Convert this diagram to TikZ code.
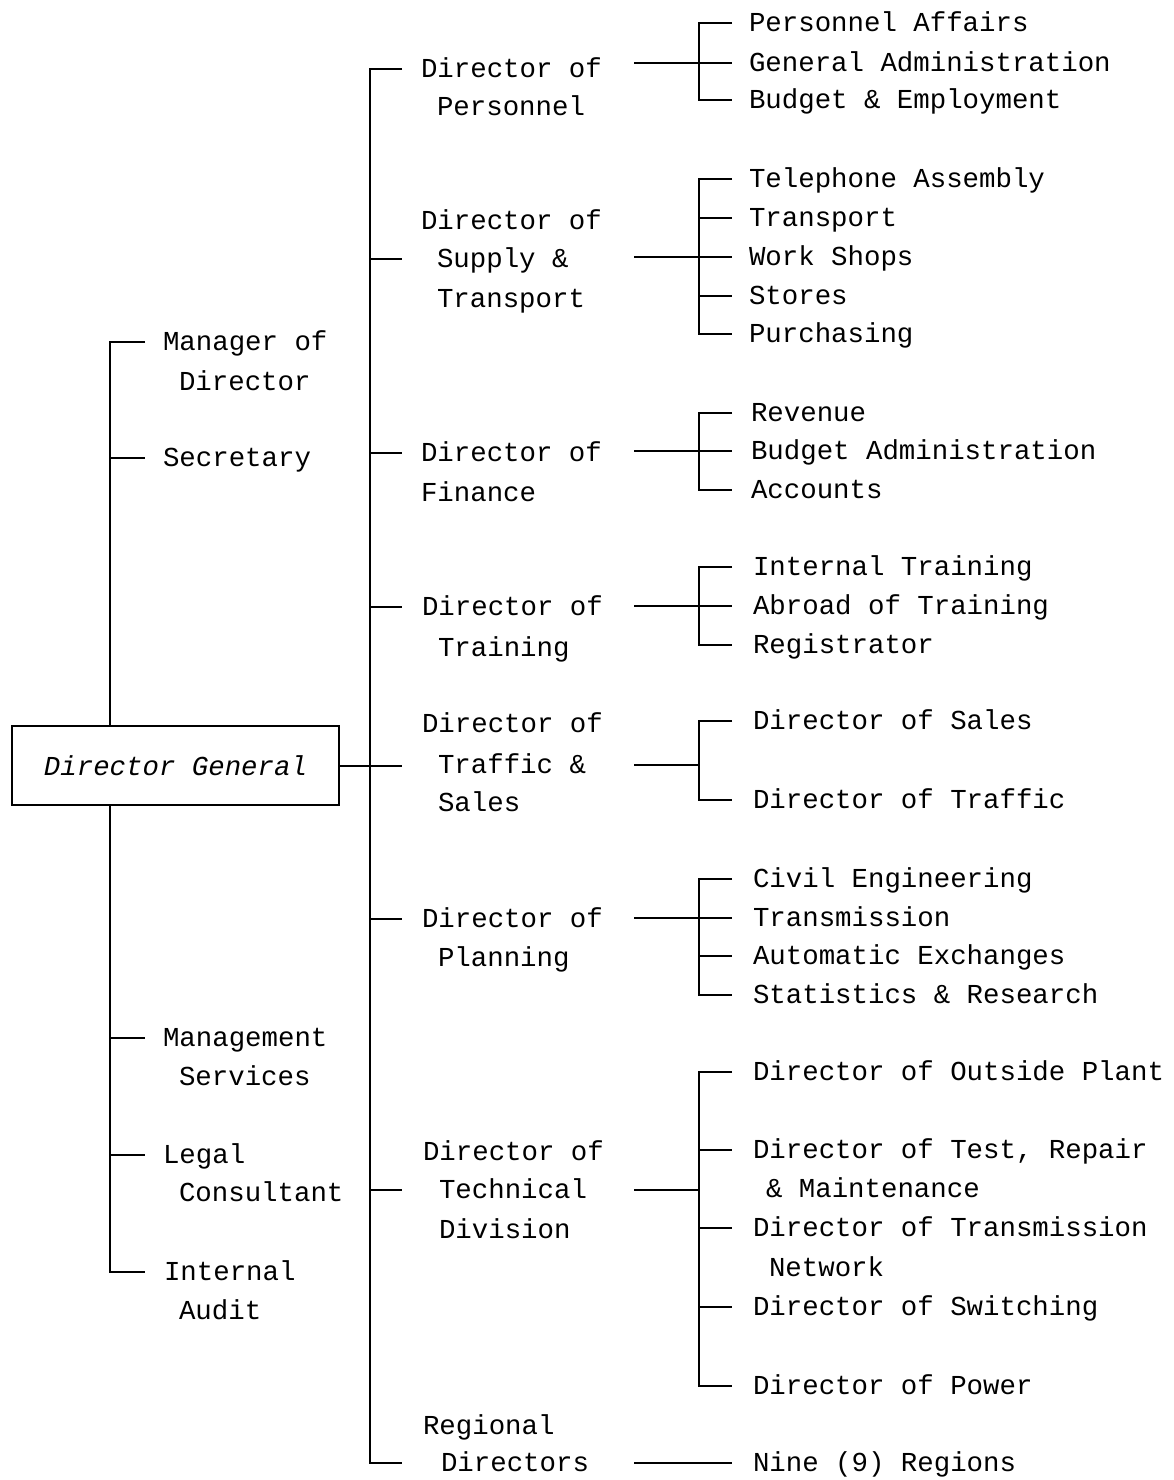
\documentclass[tikz,border=0pt]{standalone}
\usepackage{fontspec}
\newfontfamily\tw{Liberation Mono}
\begin{document}
\begin{tikzpicture}[x=1pt,y=-1pt,line width=2pt,line join=miter,
  lbl/.style={inner sep=0pt,anchor=west,text height=17pt,text depth=0pt,font=\tw\fontsize{27.4}{33}\selectfont},
  boxed/.style={draw,line width=2pt,inner sep=0pt,minimum width=327pt,minimum height=79pt,font=\tw\itshape\fontsize{27.4}{33}\selectfont}]
\useasboundingbox[fill=white] (0,0) rectangle (1173,1480);
% guide coordinates (x positions)
\coordinate (L) at (110,0);
\coordinate (Le) at (145,0);
\coordinate (M) at (370,0);
\coordinate (E) at (402,0);
\coordinate (C) at (634,0);
\coordinate (B) at (699,0);
\coordinate (D) at (732,0);
% Director General
\node[boxed] (dg) at (175.5,765.5) {Director General};
% left column
\node[lbl] (mg1) at (162,342) {Manager of};
\node[lbl] (mg2) at (178,382) {Director};
\node[lbl] (sec) at (162,458) {Secretary};
\node[lbl] (ms1) at (162,1038) {Management};
\node[lbl] (ms2) at (178,1077) {Services};
\node[lbl] (lc1) at (162,1155) {Legal};
\node[lbl] (lc2) at (178,1193) {Consultant};
\node[lbl] (ia1) at (163,1272) {Internal};
\node[lbl] (ia2) at (178,1311) {Audit};
% directors
\node[lbl] (dp1) at (420,69) {Director of};
\node[lbl] (dp2) at (436,107) {Personnel};
\node[lbl] (ds1) at (420,221) {Director of};
\node[lbl] (ds2) at (436,259) {Supply \&};
\node[lbl] (ds3) at (436,299) {Transport};
\node[lbl] (df1) at (420,453) {Director of};
\node[lbl] (df2) at (420,493) {Finance};
\node[lbl] (dt1) at (421,607) {Director of};
\node[lbl] (dt2) at (437,648) {Training};
\node[lbl] (dx1) at (421,724) {Director of};
\node[lbl] (dx2) at (437,765) {Traffic \&};
\node[lbl] (dx3) at (437,803) {Sales};
\node[lbl] (dl1) at (421,919) {Director of};
\node[lbl] (dl2) at (437,958) {Planning};
\node[lbl] (dk1) at (422,1152) {Director of};
\node[lbl] (dk2) at (438,1190) {Technical};
\node[lbl] (dk3) at (438,1230) {Division};
\node[lbl] (dr1) at (422,1426) {Regional};
\node[lbl] (dr2) at (440,1463) {Directors};
% sub units
\node[lbl] (p1) at (748,23) {Personnel Affairs};
\node[lbl] (p2) at (748,63) {General Administration};
\node[lbl] (p3) at (748,100) {Budget \& Employment};
\node[lbl] (s1) at (748,179) {Telephone Assembly};
\node[lbl] (s2) at (748,218) {Transport};
\node[lbl] (s3) at (748,257) {Work Shops};
\node[lbl] (s4) at (748,296) {Stores};
\node[lbl] (s5) at (748,334) {Purchasing};
\node[lbl] (f1) at (750,413) {Revenue};
\node[lbl] (f2) at (750,451) {Budget Administration};
\node[lbl] (f3) at (750,490) {Accounts};
\node[lbl] (t1) at (752,567) {Internal Training};
\node[lbl] (t2) at (752,606) {Abroad of Training};
\node[lbl] (t3) at (752,645) {Registrator};
\node[lbl] (x1) at (752,721) {Director of Sales};
\node[lbl] (x2) at (752,800) {Director of Traffic};
\node[lbl] (l1) at (752,879) {Civil Engineering};
\node[lbl] (l2) at (752,918) {Transmission};
\node[lbl] (l3) at (752,956) {Automatic Exchanges};
\node[lbl] (l4) at (752,995) {Statistics \& Research};
\node[lbl] (k1) at (752,1072) {Director of Outside Plant};
\node[lbl] (k2) at (752,1150) {Director of Test, Repair};
\node[lbl] (k2b) at (765,1189) {\& Maintenance};
\node[lbl] (k3) at (752,1228) {Director of Transmission};
\node[lbl] (k3b) at (768,1268) {Network};
\node[lbl] (k4) at (752,1307) {Director of Switching};
\node[lbl] (k5) at (752,1386) {Director of Power};
\node[lbl] (r1) at (752,1463) {Nine (9) Regions};
% left spine
\draw (Le|-mg1.west) -- (L|-mg1.west) -- (L|-dg.north);
\draw (L|-dg.south) -- (L|-ia1.west) -- (Le|-ia1.west);
\draw (L|-sec.west) -- (Le|-sec.west);
\draw (L|-ms1.west) -- (Le|-ms1.west);
\draw (L|-lc1.west) -- (Le|-lc1.west);
% main spine
\draw (E|-dp1.west) -- (M|-dp1.west) -- (M|-dr2.west) -- (E|-dr2.west);
\draw (dg.east) -- (E|-dg.east);
\foreach \n in {ds2,df1,dt1,dl1,dk2}{\draw (M|-\n.west) -- (E|-\n.west);}
% personnel
\draw (C|-p2.west) -- (D|-p2.west);
\draw (D|-p1.west) -- (B|-p1.west) -- (B|-p3.west) -- (D|-p3.west);
% supply
\draw (C|-s3.west) -- (D|-s3.west);
\draw (D|-s1.west) -- (B|-s1.west) -- (B|-s5.west) -- (D|-s5.west);
\foreach \n in {s2,s4}{\draw (B|-\n.west) -- (D|-\n.west);}
% finance
\draw (C|-f2.west) -- (D|-f2.west);
\draw (D|-f1.west) -- (B|-f1.west) -- (B|-f3.west) -- (D|-f3.west);
% training
\draw (C|-t2.west) -- (D|-t2.west);
\draw (D|-t1.west) -- (B|-t1.west) -- (B|-t3.west) -- (D|-t3.west);
% traffic
\draw (C|-dx2.west) -- (B|-dx2.west);
\draw (D|-x1.west) -- (B|-x1.west) -- (B|-x2.west) -- (D|-x2.west);
% planning
\draw (C|-l2.west) -- (D|-l2.west);
\draw (D|-l1.west) -- (B|-l1.west) -- (B|-l4.west) -- (D|-l4.west);
\draw (B|-l3.west) -- (D|-l3.west);
% technical
\draw (C|-dk2.west) -- (B|-dk2.west);
\draw (D|-k1.west) -- (B|-k1.west) -- (B|-k5.west) -- (D|-k5.west);
\foreach \n in {k2,k3,k4}{\draw (B|-\n.west) -- (D|-\n.west);}
% regional
\draw (C|-r1.west) -- (D|-r1.west);
\end{tikzpicture}
\end{document}
